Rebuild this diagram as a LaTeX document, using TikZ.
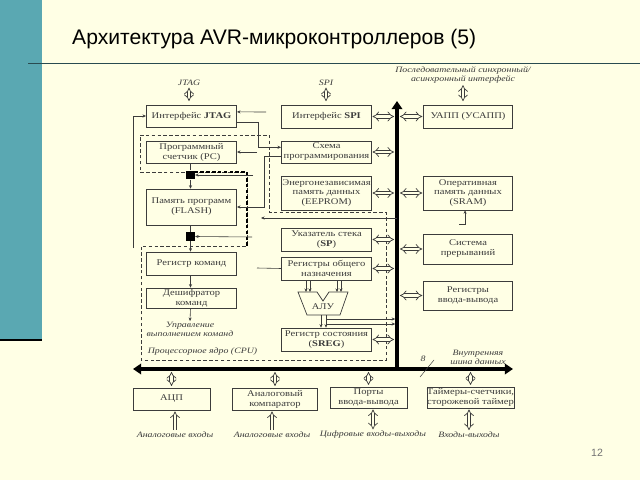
\documentclass[tikz,border=0pt]{standalone}
\usepackage{fontspec}
\setmainfont{Liberation Serif}
\newfontfamily\diagfont[FakeStretch=1.2]{Liberation Serif}
\newfontfamily\titlefont{Liberation Sans}
\usetikzlibrary{arrows.meta}

\definecolor{slidebg}{RGB}{255,255,229}
\definecolor{slideteal}{RGB}{90,168,178}
\definecolor{inkgray}{RGB}{60,60,60}

\begin{document}
\begin{tikzpicture}[x=0.03cm,y=-0.03cm,
  blk/.style={draw=inkgray,line width=0.6pt,fill=slidebg,align=center,text=inkgray,
    font=\diagfont\fontsize{7.5}{8.5}\selectfont,inner sep=0pt,minimum width=77pt,minimum height=19pt},
  lbl/.style={font=\diagfont\itshape\fontsize{7}{7.5}\selectfont,text=inkgray,align=center,inner sep=0.5pt},
  dbl/.style={draw=inkgray,double=slidebg,double distance=2.3pt,line width=0.6pt,{Implies}-{Implies}},
  wire/.style={draw=inkgray,line width=0.5pt,-{Stealth[length=3pt,width=2.6pt]}},
  bus/.style={draw=black,line width=3.4pt},
  core/.style={draw=inkgray,line width=0.6pt,dash pattern=on 3pt off 2pt},
  sq/.style={fill=black,minimum size=7.5pt,inner sep=0pt}]
  \useasboundingbox[fill=slidebg] (0,0) rectangle (640,480);

  % slide frame
  \fill[slideteal] (0,0) rectangle (42,340);
  \draw[black,line width=1.5pt] (0,340) -- (42,340);
  \draw[slideteal!45!black,line width=0.8pt] (28,63) -- (640,63);
  \node[anchor=base west,inner sep=0pt,font=\titlefont\fontsize{18}{20}\selectfont] (title) at (72,45) {Архитектура AVR-микроконтроллеров (5)};
  \node[font=\titlefont\fontsize{9}{10}\selectfont,text=black!55] (pagenum) at (597,453) {12};

  % processor core boundary
  \draw[core] (140,135) -- (269,135) -- (269,212) -- (386,212) -- (386,360) -- (141,360) -- (141,246) -- (247,246) -- (247,172) -- (140,172) -- cycle;
  \draw[core,draw=black,line width=1.1pt] (247,246) -- (247,172) -- (195,172);
  \node[lbl,anchor=west] (corelbl) at (147,352) {Процессорное ядро (CPU)};

  % left column
  \node[blk] (jtag) at (191.5,116) {Интерфейс \textbf{JTAG}};
  \node[blk] (pc) at (191.5,152) {Программный\\счетчик (PC)};
  \node[blk,minimum height=30.6pt] (flash) at (191.5,207) {Память программ\\(FLASH)};
  \node[blk,minimum height=19.6pt] (ir) at (191.5,263.5) {Регистр команд};
  \node[blk,minimum height=17pt] (dec) at (191.5,298) {Дешифратор\\команд};
  \node[sq] (sq1) at (190.5,175) {};
  \node[sq] (sq2) at (190.5,236.5) {};
  \node[lbl] (ctrl) at (190,329) {Управление\\выполнением команд};

  % middle column
  \node[blk,minimum height=19.6pt] (spi) at (326.5,116.5) {Интерфейс \textbf{SPI}};
  \node[blk] (prog) at (326.5,152) {Схема\\программирования};
  \node[blk,minimum height=28.9pt] (eeprom) at (326.5,193) {Энергонезависимая\\память данных\\(EEPROM)};
  \node[blk,minimum height=19.6pt] (sp) at (326.5,239.5) {Указатель стека\\(\textbf{SP})};
  \node[blk,minimum height=19.6pt] (rf) at (326.5,268.5) {Регистры общего\\назначения};
  \node[blk,minimum height=19.6pt] (sreg) at (326.5,339.5) {Регистр состояния\\(\textbf{SREG})};

  % right column
  \node[blk,minimum width=76.5pt,minimum height=19.6pt] (uart) at (468,116.5) {УАПП (УСАПП)};
  \node[blk,minimum width=76.5pt,minimum height=28.9pt] (sram) at (468,193) {Оперативная\\память данных\\(SRAM)};
  \node[blk,minimum width=76.5pt,minimum height=25.5pt] (irq) at (468,249) {Система\\прерываний};
  \node[blk,minimum width=76.5pt,minimum height=24.7pt] (io) at (468,295.5) {Регистры\\ввода-вывода};

  % bottom row
  \node[blk,minimum width=65.5pt,minimum height=18.7pt] (adc) at (171.5,399) {АЦП};
  \node[blk,minimum width=73pt,minimum height=18.7pt] (acomp) at (275,399) {Аналоговый\\компаратор};
  \node[blk,minimum width=65.5pt,minimum height=17.9pt] (ports) at (368.5,397.5) {Порты\\ввода-вывода};
  \node[blk,minimum width=72.5pt,minimum height=17.9pt] (timers) at (470.5,397.5) {Таймеры-счетчики,\\сторожевой таймер};

  % outer signals
  \node[lbl] (jtagin) at (189,83) {JTAG};
  \node[lbl] (spiin) at (326,83) {SPI};
  \node[lbl] (serin) at (463,75) {Последовательный синхронный/\\асинхронный интерфейс};
  \node[lbl] (adcin) at (175,435) {Аналоговые входы};
  \node[lbl] (acompin) at (272,435) {Аналоговые входы};
  \node[lbl] (portsin) at (373,435) {Цифровые входы-выходы};
  \node[lbl] (timersin) at (469,435) {Входы-выходы};
  \draw[dbl,shorten <=1pt,shorten >=3pt] (jtagin.south) -- (jtagin |- jtag.north);
  \draw[dbl,shorten <=1pt,shorten >=3pt] (spiin.south) -- (spiin |- spi.north);
  \draw[dbl,shorten <=1pt,shorten >=3pt] (serin.south) -- (serin |- uart.north);
  \draw[dbl,-{Implies},shorten <=1pt,shorten >=1pt] (adcin.north) -- (adcin |- adc.south);
  \draw[dbl,-{Implies},shorten <=1pt,shorten >=1pt] (acompin.north) -- (acompin |- acomp.south);
  \draw[dbl,shorten <=1pt,shorten >=1pt] (portsin.north) -- (portsin |- ports.south);
  \draw[dbl,shorten <=1pt,shorten >=1pt] (timersin.north) -- (timersin |- timers.south);

  % internal data bus
  \coordinate (bustop) at (397,101);
  \coordinate (busjoin) at (397,369);
  \coordinate (busleft) at (133,369);
  \coordinate (busright) at (513,369);
  \draw[bus,-{Triangle[length=7pt,width=9pt]}] (busjoin) -- (bustop);
  \draw[bus,{Triangle[length=7pt,width=9pt]}-{Triangle[length=7pt,width=9pt]}] (busleft) -- (busright);
  \node[lbl] (buswidth) at (423,359) {8};
  \coordinate (slashA) at (420,377);
  \coordinate (slashB) at (434,360);
  \draw[inkgray,line width=0.4pt] (slashA) -- (slashB);
  \node[lbl] (buslbl) at (478,357) {Внутренняя\\шина данных};

  % bus links
  \foreach \blk in {spi,prog,eeprom,sp,rf,sreg}
    \draw[dbl,shorten <=0.5pt,shorten >=2.5pt] (\blk.east) -- (\blk.east -| bustop);
  \foreach \blk in {uart,sram,irq,io}
    \draw[dbl,shorten <=2.5pt,shorten >=0.5pt] (\blk.west -| bustop) -- (\blk.west);
  \foreach \blk in {adc,acomp,ports,timers}
    \draw[dbl,shorten <=2.5pt,shorten >=1.5pt] (\blk.north |- busleft) -- (\blk.north);

  % program path
  \draw[wire,-] (sq1 |- pc.south) -- (sq1.north);
  \draw[wire] (sq1.south) -- (sq1 |- flash.north);
  \draw[wire,-] (sq1 |- flash.south) -- (sq2.north);
  \draw[wire] (sq2.south) -- (sq2 |- ir.north);
  \draw[wire] (sq2 |- ir.south) -- (sq2 |- dec.north);
  \draw[wire] (sq2 |- dec.south) -- (ctrl.north);

  % control lines
  \coordinate (jtagfeed) at (133,248);
  \coordinate (jtagback) at (266,112);
  \coordinate (pcfeed) at (257,152);
  \coordinate (sq1feed) at (253,175);
  \coordinate (sq2feed) at (252,237);
  \coordinate (flashfeed) at (261,218);
  \coordinate (rffeed) at (257,268);
  \coordinate (sramfeed) at (459,224);
  \draw[wire] (jtagfeed) |- (jtag.west);
  \draw[wire] (jtagback) -- ([yshift=3.5pt]jtag.east);
  \draw[wire] ([yshift=-5pt]jtag.east) -- ++(21,0) |- ([yshift=4pt]prog.west);
  \draw[wire] ([yshift=-4pt]prog.west) -- ++(-17,0) |- (flash.east);
  \draw[wire] (pcfeed) -- (pc.east);
  \draw[wire] (sq1feed) -- (sq1.east);
  \draw[wire] (sq2feed) -- (sq2.east);
  \draw[wire] (flashfeed -| bustop) -- (flashfeed);
  \draw[wire,-] (rffeed) -- (rf.west);
  \draw[wire] (sramfeed) -| ([xshift=-2.5pt]sram.south);

  % ALU
  \draw[draw=inkgray,line width=0.6pt,fill=slidebg] (298,292) -- (317,292) -- (323,301) -- (329,292) -- (348,292) -- (340,315) -- (307,315) -- cycle;
  \node[font=\diagfont\fontsize{7.5}{8.5}\selectfont,text=inkgray] (alu) at (323,307) {АЛУ};
  \foreach \xa [count=\i] in {306,310,337,341} {
    \coordinate (aluin\i) at (\xa,292);
    \draw[wire] (rf.south -| aluin\i) -- (aluin\i);
  }
  \coordinate (aluoutA) at (321,315);
  \coordinate (aluoutB) at (326,315);
  \coordinate (alubusA) at (326,319);
  \coordinate (alubusB) at (326,324);
  \draw[wire] (aluoutA) -- (aluoutA |- sreg.north);
  \draw[wire] (aluoutB) -- (aluoutB |- sreg.north);
  \draw[wire,shorten >=1.5pt] (alubusA) -- (alubusA -| bustop);
  \draw[wire,shorten >=1.5pt] (alubusB) -- (alubusB -| bustop);
\end{tikzpicture}
\end{document}
